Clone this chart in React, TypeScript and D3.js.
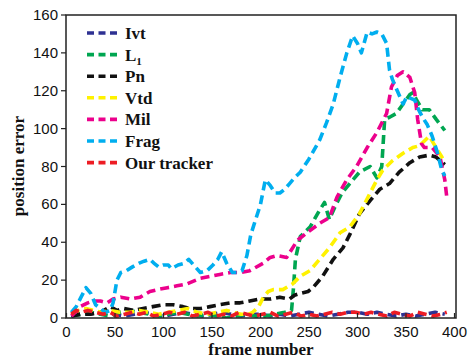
import React from "react";
import * as d3 from "d3";

const xTicks = [0, 50, 100, 150, 200, 250, 300, 350, 400];
const yTicks = [0, 20, 40, 60, 80, 100, 120, 140, 160];

const ivt: [number, number][] = [[5,1],[12,2],[20,3],[30,2],[40,3],[50,2],[60,1],[70,2],[80,3],[90,2],[100,1],[110,2],[120,3],[130,2],[140,1],[150,2],[160,3],[170,2],[180,1],[190,2],[200,2],[210,1],[220,2],[230,1],[240,2],[250,3],[260,2],[270,1],[280,2],[290,3],[300,3],[310,2],[320,3],[330,2],[340,1],[350,2],[360,1],[370,2],[380,3],[390,2]];
const l1: [number, number][] = [[5,1],[15,2],[25,3],[35,2],[45,1],[55,3],[65,4],[75,3],[85,2],[95,1],[105,2],[115,3],[125,2],[135,1],[145,2],[155,1],[165,0],[175,1],[185,2],[195,1],[205,1],[215,2],[225,3],[232,4],[234,16],[236,31],[241,43],[251,48],[261,57],[266,61],[271,52],[277,59],[284,66],[292,71],[302,77],[313,80],[320,74],[325,80],[328,105],[333,106],[340,108],[347,113],[354,118],[357,119],[361,115],[367,110],[374,110],[381,105],[390,99]];
const pn: [number, number][] = [[5,1],[15,2],[25,2],[35,3],[45,6],[52,4],[59,5],[69,4],[79,5],[89,6],[100,7],[110,7],[120,6],[128,5],[138,5],[148,6],[158,7],[169,8],[179,8],[189,9],[199,10],[210,10],[220,11],[230,10],[235,12],[241,13],[249,14],[254,16],[264,22],[275,31],[285,37],[292,44],[302,55],[313,62],[323,68],[333,71],[343,77],[354,82],[364,85],[374,86],[381,85],[390,81]];
const vtd: [number, number][] = [[5,2],[12,4],[20,5],[28,4],[36,3],[45,4],[55,3],[65,3],[75,4],[85,3],[95,2],[105,3],[115,4],[125,5],[135,3],[145,2],[155,3],[165,4],[172,3],[180,2],[188,2],[192,3],[198,6],[203,11],[208,14],[213,15],[223,15],[233,18],[241,22],[251,25],[261,31],[271,37],[282,45],[292,48],[302,55],[313,66],[320,73],[326,78],[336,83],[347,87],[357,90],[364,91],[374,96],[381,90],[387,85],[390,82]];
const mil: [number, number][] = [[5,1],[9,3],[14,6],[22,8],[28,9],[35,9],[42,8],[48,10],[56,11],[66,10],[76,11],[86,14],[94,15],[104,16],[114,17],[124,18],[138,21],[148,22],[158,23],[169,24],[179,24],[189,25],[203,29],[210,32],[217,33],[227,32],[238,41],[248,45],[261,50],[271,53],[279,64],[289,73],[299,80],[310,90],[320,98],[330,108],[335,122],[341,128],[347,130],[354,127],[359,119],[362,105],[366,92],[369,90],[377,90],[385,85],[390,73],[392,64]];
const frag: [number, number][] = [[5,3],[10,6],[15,11],[20,16],[25,13],[30,7],[35,5],[40,3],[45,4],[48,8],[52,20],[56,24],[62,25],[68,27],[75,29],[80,30],[86,31],[90,29],[95,27],[100,28],[105,28],[108,26],[115,28],[122,29],[126,31],[131,28],[138,24],[145,25],[151,28],[156,31],[160,35],[165,29],[171,24],[176,24],[181,25],[186,33],[190,44],[195,52],[200,60],[205,73],[210,70],[215,66],[220,66],[225,68],[230,71],[235,74],[241,77],[250,84],[261,94],[268,103],[275,113],[282,127],[289,140],[295,149],[300,145],[304,140],[310,151],[315,150],[320,151],[325,150],[330,145],[333,131],[336,126],[341,120],[347,113],[351,117],[355,116],[359,115],[363,110],[367,106],[372,102],[377,96],[382,88],[387,78],[390,75]];
const ours: [number, number][] = [[5,2],[10,4],[15,3],[22,4],[30,3],[38,2],[45,3],[52,1],[60,2],[68,3],[75,2],[82,3],[90,1],[98,2],[106,3],[114,2],[122,3],[130,1],[138,2],[146,3],[154,1],[162,2],[170,1],[178,3],[186,2],[194,1],[202,2],[210,3],[218,1],[226,2],[234,3],[242,1],[250,2],[258,1],[266,2],[274,3],[282,2],[290,3],[298,3],[306,2],[314,3],[322,2],[330,1],[338,3],[346,2],[354,1],[362,3],[370,2],[378,1],[386,2],[392,3]];

const seriesNames = ["Ivt", "L1", "Pn", "Vtd", "Mil", "Frag", "Our tracker"];
const seriesColors = ["#2e3192", "#00a651", "#111111", "#fff200", "#ec008c", "#00aeef", "#ed1c24"];
const seriesData = [ivt, l1, pn, vtd, mil, frag, ours];

export default function App() {
  const W = 469, H = 360;
  const left = 66, right = 456, top = 15, bottom = 318;
  const x = d3.scaleLinear().domain([0, 400]).range([left + 0.5, right - 1.5]);
  const y = d3.scaleLinear().domain([0, 160]).range([bottom, top]);
  const line = d3.line<[number, number]>().x(d => x(d[0])).y(d => y(d[1]));
  const serif = "'Liberation Serif', 'Times New Roman', serif";
  const sans = "'Liberation Sans', Arial, sans-serif";

  return (
    <div style={{ position: "absolute", left: 0, top: 0 }}>
      <svg width={W} height={H} style={{ display: "block", background: "#fff" }}>
        <rect x={0} y={0} width={W} height={H} fill="#fff" />
        <defs>
          <clipPath id="plotclip">
            <rect x={left} y={top} width={right - left} height={bottom - top} />
          </clipPath>
        </defs>
        <g clipPath="url(#plotclip)">
          {seriesData.map((data, i) => (
            <path key={i} d={line(data) || ""} fill="none" stroke={seriesColors[i]}
              strokeWidth={3.6} strokeDasharray="9,5" strokeLinejoin="round" />
          ))}
        </g>
        {/* frame */}
        <rect x={left} y={top} width={right - left} height={bottom - top} fill="none" stroke="#222" strokeWidth={1.5} />
        {/* y ticks */}
        {yTicks.map(t => (
          <g key={"y" + t}>
            <line x1={left - 5} x2={left} y1={y(t)} y2={y(t)} stroke="#222" strokeWidth={1.2} />
            <text x={left - 8} y={y(t) + 5} textAnchor="end" fontFamily={sans} fontSize={15} fill="#111">{t}</text>
          </g>
        ))}
        {/* x ticks */}
        {xTicks.map(t => (
          <g key={"x" + t}>
            <line x1={x(t)} x2={x(t)} y1={bottom} y2={bottom - 5} stroke="#222" strokeWidth={1.2} />
            <text x={x(t)} y={337} textAnchor="middle" fontFamily={sans} fontSize={15} fill="#111">{t}</text>
          </g>
        ))}
        <text x={261} y={355} textAnchor="middle" fontFamily={serif} fontWeight="bold" fontSize={17} fill="#111">frame number</text>
        <text transform={`translate(24,166) rotate(-90)`} textAnchor="middle" fontFamily={serif} fontWeight="bold" fontSize={17} fill="#111">position error</text>
        {/* legend */}
        {seriesNames.map((name, i) => {
          const ly = 33 + i * 21.6;
          return (
            <g key={"l" + i}>
              <line x1={87} x2={120} y1={ly} y2={ly} stroke={seriesColors[i]} strokeWidth={3.6} strokeDasharray="7,4.5" />
              <text x={125} y={ly + 6} fontFamily={serif} fontWeight="bold" fontSize={17} fill="#111">
                {name === "L1" ? (<>L<tspan fontSize={11} dy={4}>1</tspan></>) : name}
              </text>
            </g>
          );
        })}
      </svg>
    </div>
  );
}
